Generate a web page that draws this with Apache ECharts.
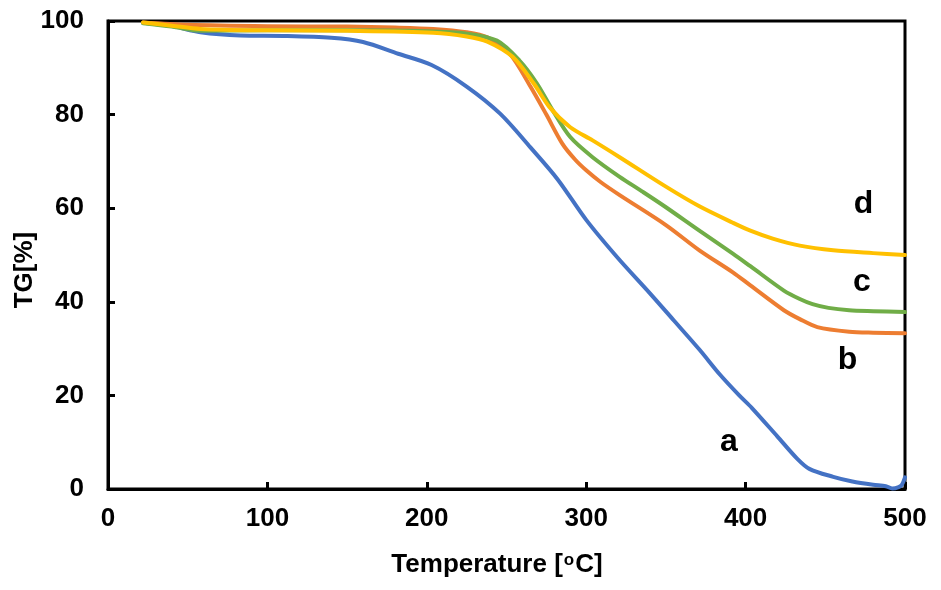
<!DOCTYPE html>
<html>
<head>
<meta charset="utf-8">
<script src="https://cdn.jsdelivr.net/npm/echarts@6/dist/echarts.min.js"></script>
<style>html,body{margin:0;padding:0;background:#fff}#c{width:941px;height:590px}</style>
</head>
<body>
<div id="c"></div>
<script>
// [Temperature °C, TG %]
var curveA = [[22,99.6],[40,98.9],[58,97.6],[83,96.9],[110,96.8],[140,96.4],[160,95.5],[182,93.0],[203,90.6],[225,86.0],[246,80.2],[265,73.0],[282,66.2],[300,57.5],[320,49.3],[340,41.8],[355,36.0],[371,29.8],[384,24.4],[396,20.0],[404,17.3],[420,11.2],[432,6.6],[440,4.3],[455,2.6],[467,1.6],[480,0.9],[488,0.6],[492,0.1],[496,0.4],[498,0.9],[500,2.5]];
var curveB = [[22,99.7],[50,99.2],[100,98.9],[150,98.8],[180,98.6],[204,98.3],[225,97.6],[238,96.5],[252,93.0],[265,86.0],[275,80.0],[285,73.8],[293,70.4],[300,68.1],[309,65.6],[321,62.8],[350,56.4],[371,51.0],[392,46.3],[403,43.5],[424,38.2],[434,36.3],[445,34.6],[465,33.6],[480,33.4],[500,33.3]];
var curveC = [[22,99.5],[40,98.8],[58,97.9],[100,98.0],[150,98.0],[200,97.8],[225,97.3],[244,95.8],[258,91.6],[269,86.7],[279,80.9],[290,75.2],[304,70.9],[321,66.7],[335,63.6],[350,60.2],[371,55.2],[392,50.3],[403,47.6],[424,42.4],[434,40.6],[442,39.5],[452,38.7],[465,38.2],[480,38.0],[500,37.8]];
var curveD = [[22,99.7],[40,99.0],[58,98.3],[100,98.0],[150,97.9],[204,97.5],[225,96.7],[238,95.6],[254,92.3],[267,86.7],[277,81.6],[290,77.3],[304,74.5],[321,70.9],[350,64.6],[371,60.4],[392,56.9],[403,55.2],[417,53.5],[434,52.0],[455,51.0],[480,50.4],[500,50.0]];
var seriesNames = ['a','b','c','d'];
var seriesColors = ['#4472C4','#ED7D31','#70AD47','#FFC000'];
// label anchor positions in data units [T, TG]
var labelPos = [[389.6,10.0],[464,27.5],[473,44.2],[474,60.8]];
var xTicks = [0,100,200,300,400,500];
var yTicks = [0,20,40,60,80,100];

var FONT = '"Liberation Sans", Arial, sans-serif';
var curves = [curveA, curveB, curveC, curveD];
var chart = echarts.init(document.getElementById('c'), null, {renderer:'canvas'});
var series = curves.map(function(d, i){
  return {
    type:'line', name:seriesNames[i], data:d, showSymbol:false, smooth:0.3,
    lineStyle:{color:seriesColors[i], width:4, cap:'round', join:'round'},
    itemStyle:{color:seriesColors[i]},
    animation:false, z:2+i,
    markPoint:{
      symbol:'circle', symbolSize:0, silent:true, animation:false,
      data:[{coord:labelPos[i], name:seriesNames[i]}],
      label:{show:true, position:'inside', formatter:'{b}', color:'#000', fontSize:32, fontWeight:'bold', fontFamily:FONT}
    }
  };
});
chart.setOption({
  backgroundColor:'#fff',
  animation:false,
  grid:{left:108, right:36, top:21, bottom:101, show:true, borderColor:'#000', borderWidth:3, backgroundColor:'transparent'},
  xAxis:{type:'value', min:xTicks[0], max:xTicks[xTicks.length-1], interval:100,
    axisLine:{show:true, onZero:false, lineStyle:{color:'#000', width:3}},
    axisTick:{show:true, inside:true, length:7, lineStyle:{color:'#000', width:3}},
    axisLabel:{color:'#000', fontSize:26, fontWeight:'bold', fontFamily:FONT, margin:17},
    splitLine:{show:false}},
  yAxis:{type:'value', min:yTicks[0], max:yTicks[yTicks.length-1], interval:20,
    axisLine:{show:true, onZero:false, lineStyle:{color:'#000', width:3}},
    axisTick:{show:true, inside:true, length:7, lineStyle:{color:'#000', width:3}},
    axisLabel:{color:'#000', fontSize:26, fontWeight:'bold', fontFamily:FONT, margin:24},
    splitLine:{show:false}},
  graphic:[
    {type:'text', x:497, y:565, style:{text:'{b|Temperature [}{s|o}{b|C]}', align:'center', verticalAlign:'middle',
      rich:{b:{fontSize:26, fontWeight:'bold', fontFamily:FONT, fill:'#000'}, s:{fontSize:17, fontWeight:'bold', fontFamily:FONT, fill:'#000', padding:[0,1,10,1]}}}},
    {type:'text', x:25, y:270, rotation:Math.PI/2, style:{text:'TG[%]', align:'center', verticalAlign:'middle', fontSize:26, fontWeight:'bold', fontFamily:FONT, fill:'#000'}}
  ],
  series:series
});
</script>
</body>
</html>
